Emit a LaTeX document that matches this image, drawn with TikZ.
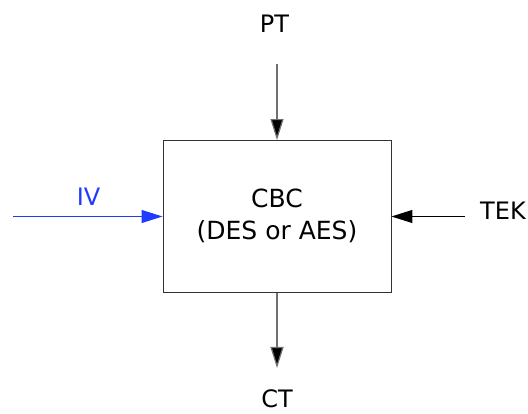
\documentclass[tikz,border=0pt]{standalone}
\usepackage{fontspec}
\setmainfont{DejaVu Sans}
\usetikzlibrary{arrows.meta}
\definecolor{ivblue}{HTML}{1F3BFF}
\definecolor{linegray}{HTML}{707070}
\begin{document}
\begin{tikzpicture}[x=1pt,y=-1pt,
  lbl/.style={font=\fontsize{24}{28}\selectfont, inner sep=0pt, anchor=base},
  arr/.style={draw=linegray, line width=1.2pt, -{Triangle[length=21pt,width=13pt,fill=black]}}]
\useasboundingbox (0,0) rectangle (528,414);
\node[draw=black!80, line width=0.9pt, minimum width=228pt, minimum height=152pt, inner sep=0pt] (cbc) at (277,216.5) {};
\node[inner sep=0pt, anchor=base, align=center, font=\fontsize{25}{32}\selectfont] (cbctext) at (277,240) {CBC\\(DES or AES)};
\node[lbl] (pt) at (274.5,33) {PT};
\node[lbl] (ct) at (277,407) {CT};
\node[lbl, text=ivblue] (iv) at (88.5,206) {IV};
\node[lbl, anchor=base west] (tek) at (480,220) {TEK};
\coordinate (ptend) at (277,64);
\coordinate (ctend) at (277,368);
\coordinate (ivstart) at (13,216.5);
\coordinate (tekstart) at (465,216.5);
\draw[arr] (ptend) -- (cbc.north);
\draw[arr] (cbc.south) -- (ctend);
\draw[draw=ivblue, line width=1pt, -{Triangle[length=21pt,width=13pt,fill=ivblue]}] (ivstart) -- (cbc.west);
\draw[draw=black, line width=1pt, -{Triangle[length=21pt,width=13pt,fill=black]}] (tekstart) -- (cbc.east);
\end{tikzpicture}
\end{document}
